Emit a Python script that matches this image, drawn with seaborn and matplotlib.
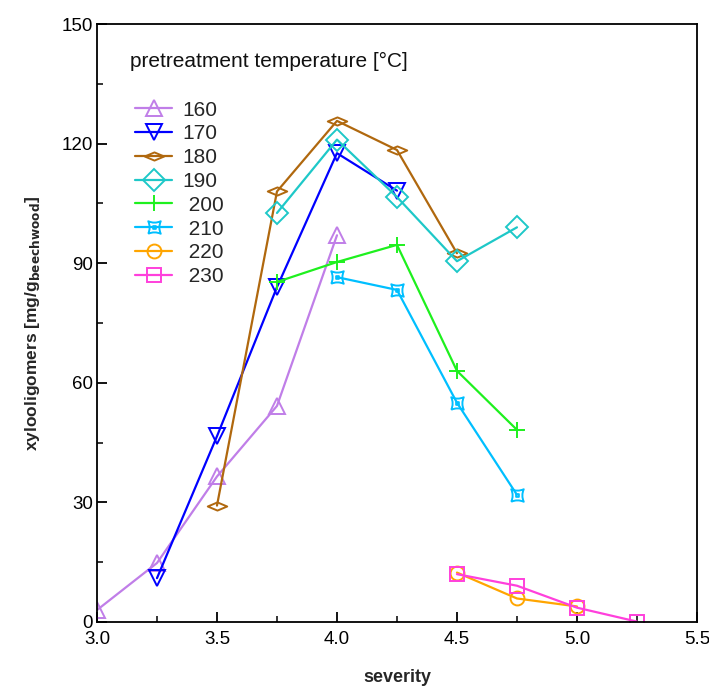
import numpy as np
import pandas as pd
import matplotlib
matplotlib.use("Agg")
import matplotlib.pyplot as plt
from matplotlib.path import Path
from matplotlib.ticker import MultipleLocator, FormatStrFormatter
import seaborn as sns

sns.set_theme(style="white")
plt.rcParams["font.family"] = ["Liberation Sans", "DejaVu Sans"]

# severity values and xylooligomer yields per pretreatment temperature
sev_160 = [3.0, 3.25, 3.5, 3.75, 4.0]
xos_160 = [3.0, 14.8, 36.5, 54.2, 97.0]
sev_170 = [3.25, 3.5, 3.75, 4.0, 4.25]
xos_170 = [11.0, 46.6, 84.0, 117.6, 108.2]
sev_180 = [3.5, 3.75, 4.0, 4.25, 4.5]
xos_180 = [29.2, 108.0, 125.7, 118.4, 92.5]
sev_190 = [3.75, 4.0, 4.25, 4.5, 4.75]
xos_190 = [102.6, 121.0, 106.6, 90.5, 99.0]
sev_200 = [3.75, 4.0, 4.25, 4.5, 4.75]
xos_200 = [85.3, 90.3, 94.6, 63.0, 48.2]
sev_210 = [4.0, 4.25, 4.5, 4.75]
xos_210 = [86.5, 83.3, 55.0, 31.9]
sev_220 = [4.5, 4.75, 5.0]
xos_220 = [12.4, 5.9, 3.9]
sev_230 = [4.5, 4.75, 5.0, 5.25]
xos_230 = [12.0, 9.1, 3.6, 0.1]

temperatures = ["160", "170", "180", "190", "200", "210", "220", "230"]
severities = [sev_160, sev_170, sev_180, sev_190, sev_200, sev_210, sev_220, sev_230]
yields = [xos_160, xos_170, xos_180, xos_190, xos_200, xos_210, xos_220, xos_230]

colors = ["#c07ee8", "#0000ff", "#b0680e", "#1ec8c8", "#1ef01e",
          "#00bfff", "#ffa500", "#ff40dc"]

# wide (flattened) diamond
wide_diamond = Path([(-1.0, 0.0), (0.0, 0.42), (1.0, 0.0), (0.0, -0.42), (-1.0, 0.0)],
                    [Path.MOVETO, Path.LINETO, Path.LINETO, Path.LINETO, Path.CLOSEPOLY])
# square with concave sides and a small inner square
c = 0.55
s = 0.22
star_sq = Path(
    [(-1, -1), (0, -c), (1, -1), (c, 0), (1, 1), (0, c), (-1, 1), (-c, 0), (-1, -1),
     (-s, -s), (s, -s), (s, s), (-s, s), (-s, -s)],
    [Path.MOVETO, Path.CURVE3, Path.CURVE3, Path.CURVE3, Path.CURVE3,
     Path.CURVE3, Path.CURVE3, Path.CURVE3, Path.CURVE3,
     Path.MOVETO, Path.LINETO, Path.LINETO, Path.LINETO, Path.CLOSEPOLY])

markers = ["^", "v", wide_diamond, "D", "+", star_sq, "o", "s"]
msizes = [12, 12, 14, 11, 12, 9, 10, 9.5]

records = []
for t, xs, ys in zip(temperatures, severities, yields):
    for xv, yv in zip(xs, ys):
        records.append({"severity": xv, "xos": yv, "temperature": t})
df = pd.DataFrame(records)

fig = plt.figure(figsize=(7.09, 6.86), dpi=100)
ax = fig.add_axes([0.1368, 0.0933, 0.8462, 0.8717])

handles = []
for t, col, mk, ms in zip(temperatures, colors, markers, msizes):
    sub = df[df["temperature"] == t]
    sns.lineplot(data=sub, x="severity", y="xos", ax=ax, color=col, lw=1.6,
                 marker=mk, markersize=ms, markerfacecolor="none",
                 markeredgecolor=col, markeredgewidth=1.4, legend=False)
    handles.append(ax.lines[-1])

ax.set_xlim(3.0, 5.5)
ax.set_ylim(0, 150)
ax.xaxis.set_major_locator(MultipleLocator(0.5))
ax.xaxis.set_minor_locator(MultipleLocator(0.25))
ax.yaxis.set_major_locator(MultipleLocator(30))
ax.yaxis.set_minor_locator(MultipleLocator(15))
ax.xaxis.set_major_formatter(FormatStrFormatter("%.1f"))
ax.tick_params(axis="both", which="major", direction="in", length=7, width=1.3,
               labelsize=13.5, colors="black", bottom=True, left=True, top=False, right=False)
ax.tick_params(axis="x", which="major", pad=6.5)
ax.tick_params(axis="y", which="major", pad=3)
ax.tick_params(axis="both", which="minor", direction="in", length=4, width=1.3,
               bottom=True, left=True, top=False, right=False)
for sp in ax.spines.values():
    sp.set_color("black")
    sp.set_linewidth(1.3)

ax.set_xlabel("severity", fontsize=13, fontweight="bold", labelpad=15)
ax.set_ylabel(r"xylooligomers [mg/g$_{\mathbf{beechwood}}$]", fontsize=12.5,
              fontweight="bold", labelpad=14)

ax.text(0.055, 0.937, "pretreatment temperature [°C]", transform=ax.transAxes,
        fontsize=15, ha="left", va="center", color="#111111")

labels = ["160", "170", "180", "190", " 200", " 210", " 220", " 230"]
leg = ax.legend(handles, labels, loc="upper left", bbox_to_anchor=(0.063, 0.872),
                frameon=False, fontsize=15, handlelength=1.8, borderpad=0,
                labelspacing=0.23, handletextpad=0.5, borderaxespad=0)

fig.savefig("out.png", dpi=100)
